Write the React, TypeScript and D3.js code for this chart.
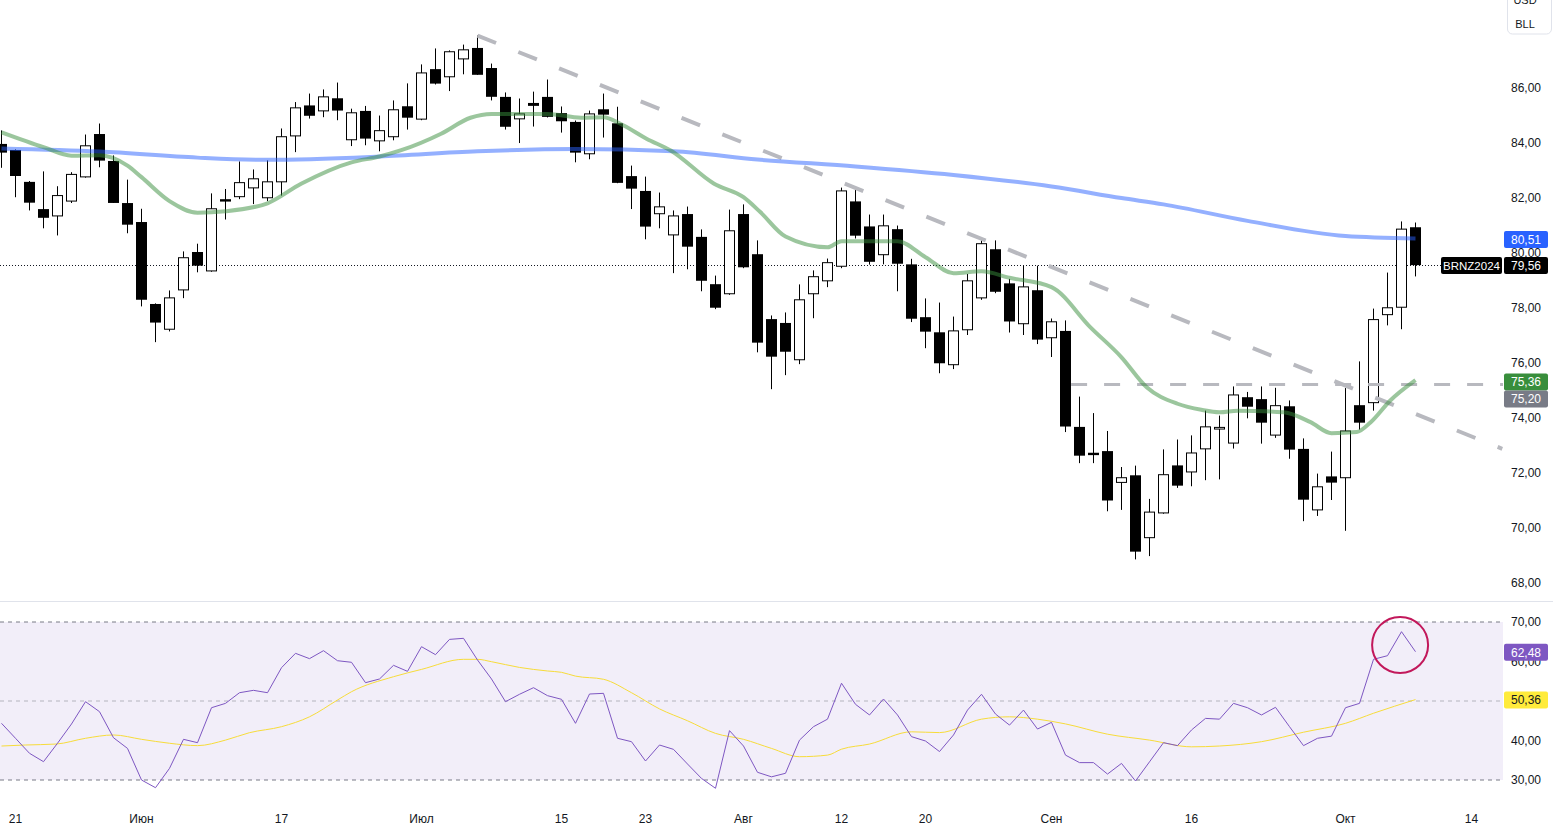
import React from 'react';
import * as d3 from 'd3';

const W = 1553;
const H = 832;

// ---- candle data (May 20 2024 .. Oct 8 2024, trading days) ----
const opens = [83.93,83.71,82.55,81.56,81.33,81.87,82.75,84.29,83.31,81.78,81.09,78.11,77.21,78.64,80.0,79.33,81.92,82.03,82.35,81.99,82.57,84.24,85.33,85.15,85.59,84.1,85.13,84.06,84.21,85.3,84.85,86.65,86.39,87.04,87.42,86.69,85.64,84.86,85.42,85.64,85.05,84.73,83.59,85.19,84.68,82.76,82.22,81.41,80.64,81.38,80.55,78.83,78.5,81.38,79.92,77.56,77.42,76.1,78.5,78.97,79.5,81.84,80.93,79.92,80.83,79.55,77.63,77.08,75.92,77.19,78.35,80.1,78.86,77.41,78.61,76.9,77.13,73.64,72.7,72.76,71.64,71.88,69.63,70.53,72.24,72.02,72.86,73.58,73.07,74.72,74.65,73.36,74.39,72.84,70.64,71.84,71.81,74.43,74.54,77.74,78.01,80.9];
const highs = [84.44,83.75,82.6,82.95,82.41,82.92,84.29,84.69,83.53,82.65,81.59,78.15,78.62,80.04,80.32,82.15,82.31,83.31,83.02,83.35,84.51,85.47,85.78,85.93,86.18,85.23,85.33,84.98,85.53,86.15,86.84,87.42,87.35,87.56,87.89,86.87,85.82,85.6,85.85,86.29,85.31,84.8,85.16,85.78,85.3,83.16,82.76,82.18,81.53,81.67,80.84,79.16,81.56,81.75,80.44,77.71,77.82,78.84,79.35,79.78,82.36,82.29,81.38,81.38,80.98,79.77,78.33,78.18,77.67,79.22,80.47,80.44,79.04,79.52,79.52,77.6,77.53,74.76,74.16,73.51,72.2,72.25,71.04,72.84,73.2,73.35,74.25,74.07,75.13,74.93,75.13,75.08,74.62,73.24,71.96,72.76,75.07,76.04,77.96,79.27,81.13,81.09];
const lows = [83.08,82.01,81.53,80.88,80.62,81.8,82.72,83.1,81.8,80.7,78.04,76.74,77.13,78.34,79.28,79.3,81.2,81.94,81.76,81.87,82.07,83.65,84.87,84.92,84.81,83.87,83.9,83.68,84.08,84.47,84.81,86.11,85.87,86.48,86.46,85.53,84.47,83.98,84.58,84.91,84.36,83.28,83.39,84.18,82.52,81.58,80.48,80.88,79.25,79.39,78.59,77.94,78.46,79.43,76.37,75.03,75.54,75.94,77.61,78.74,79.43,80.51,79.56,79.57,78.59,77.47,76.52,75.61,75.76,77.0,78.28,78.52,77.09,77.0,76.67,76.2,73.47,72.34,72.34,70.59,70.64,68.84,68.96,70.5,71.44,71.5,71.72,71.75,72.87,73.97,73.05,73.26,72.5,70.23,70.42,71.0,69.88,73.56,74.25,77.35,77.21,79.13];
const closes = [83.65,82.8,81.83,81.28,82.07,82.84,83.88,83.36,81.82,81.03,78.3,77.47,78.35,79.81,79.54,81.59,81.87,82.54,82.68,82.57,84.21,85.26,84.99,85.66,85.18,85.08,84.16,84.43,85.19,84.92,86.53,86.16,87.3,87.37,86.48,85.68,84.59,85.04,85.35,84.95,84.79,83.65,85.04,85.03,82.55,82.34,80.96,81.66,81.33,80.23,78.99,78.01,80.79,79.48,76.74,76.23,76.41,78.28,79.12,79.63,82.24,80.63,79.68,80.97,79.61,77.61,77.14,75.99,77.15,78.97,80.32,78.59,77.51,78.75,76.85,77.48,73.69,72.63,72.65,71.0,71.81,69.14,70.56,71.92,71.54,72.71,73.66,73.64,74.82,74.41,73.83,74.43,72.85,71.03,71.48,71.65,73.51,73.83,77.56,77.99,80.85,79.56];

// ---- moving averages (bar index, value) ----
const maLongIdx = [0,7,14,19,27,34,41,48,54,61,68,75,80,83,89,96,101];
const maLongVal = [83.78,83.67,83.45,83.37,83.49,83.68,83.76,83.68,83.38,83.13,82.82,82.4,81.98,81.75,81.15,80.6,80.51];

const maShortIdx = [0,3,5,7,9,10,12,14,16,19,21.4,25,27,28.5,31.4,33.5,35,39,41.4,43,44.2,46.1,47.8,50.9,53,54.2,56,59,60,64,66,68,70,72,75,77.8,80,81.8,84,85.7,87,88.3,91.6,93.5,95,96.8,97.8,99.2,101];
const maShortVal = [84.37,83.83,83.52,83.54,83.16,82.74,81.87,81.45,81.5,81.79,82.5,83.28,83.49,83.71,84.32,84.9,85.04,85.04,84.9,84.92,84.68,84.13,83.71,82.5,82.01,81.47,80.58,80.19,80.41,80.41,79.83,79.25,79.32,79.08,78.74,77.27,76.19,75.1,74.5,74.28,74.19,74.25,74.19,73.83,73.43,73.47,73.83,74.62,75.36];

// ---- RSI ----
const rsiVals = [44.35,40.56,36.76,34.64,39.3,44.18,49.83,47.3,40.7,38.0,30.0,28.05,32.95,40.3,39.45,48.3,49.4,52.1,52.7,52.1,58.43,62.07,60.72,62.74,60.2,59.8,54.64,55.57,59.03,57.51,63.75,61.73,65.6,65.87,60.38,55.57,49.83,51.7,53.37,51.35,50.43,44.35,51.77,51.94,40.56,39.7,34.81,38.86,37.76,34.05,30.4,27.9,42.5,38.6,31.95,30.8,31.7,40.1,43.5,45.4,54.5,49.16,46.46,50.5,46.46,40.97,39.87,37.2,41.4,47.7,51.7,46.7,43.9,47.7,42.9,44.6,36.3,34.4,34.4,31.5,34.2,29.75,34.6,39.45,38.7,42.66,45.6,45.4,49.4,48.3,46.46,48.4,43.5,38.7,40.56,41.1,48.3,49.4,60.55,61.47,67.55,62.48];
const rsiMaIdx = [0,1.7,3.9,6,8,10,12,14,16,17.7,20,22,24,25,28,30,33,34,35,37,39,40,41,43,45,47,49,51,53,55,57,59,60,62,65,67,70,72,74,76,79,82,85,87,90,93,96,98,101];
const rsiMaVal = [38.6,38.86,39.1,40.56,41.4,40.3,39.3,38.7,40.1,41.97,43.5,46.0,50.25,52.35,56.15,58.0,60.55,60.55,59.95,58.5,57.6,57.26,56.3,55.5,52.1,48.0,45.0,41.8,40.3,38.0,35.9,36.3,37.8,39.1,42.2,42.0,45.4,46.0,45.4,44.2,41.6,40.1,38.4,38.6,39.7,42.1,44.35,46.9,50.36];

// ---- axes / annotations ----
const priceTicks = [68,70,72,74,76,78,80,82,84,86];
const rsiTicks = [30,40,60,70];
const xTickIdx = [1,10,20,30,40,46,53,60,66,75,85,96,105];
const xTickLabels = ['21','Июн','17','Июл','15','23','Авг','12','20','Сен','16','Окт','14'];
const trendIdx = [34,107.2];
const trendVal = [87.89,72.86];
const levelIdx = 76.4;
const levelVal = 75.2;
const circleIdx = 99.9;
const circleRsi = 64.2;

const fmt = (v: number) => v.toFixed(2).replace('.', ',');

export default function App() {
  const plotRight = 1503;
  const x = d3.scaleLinear().domain([0, 101]).range([1.5, 1415.5]);
  const y = d3.scaleLinear().domain([68, 86]).range([582.5, 87.5]);
  const ry = d3.scaleLinear().domain([30, 70]).range([780, 622]);

  const n = closes.length;
  const lastClose = closes[n - 1];

  const lineMain = d3.line<[number, number]>().x(d => x(d[0])).y(d => y(d[1])).curve(d3.curveMonotoneX);
  const lineRsi = d3.line<[number, number]>().x(d => x(d[0])).y(d => ry(d[1]));
  const lineRsiMa = d3.line<[number, number]>().x(d => x(d[0])).y(d => ry(d[1])).curve(d3.curveMonotoneX);

  const longPts = maLongIdx.map((v, i) => [v, maLongVal[i]] as [number, number]);
  const shortPts = maShortIdx.map((v, i) => [v, maShortVal[i]] as [number, number]);
  const rsiPts = rsiVals.map((v, i) => [i, v] as [number, number]);
  const rsiMaPts = rsiMaIdx.map((v, i) => [v, rsiMaVal[i]] as [number, number]);

  const font = "'Liberation Sans', Arial, sans-serif";
  const axisColor = '#131722';

  const label = (val: number, yc: number, bg: string, fg: string, key: string) => (
    <g key={key}>
      <rect x={1504} y={yc - 8.5} width={44} height={17} rx={2} fill={bg} />
      <text x={1511} y={yc + 4.3} fontSize={12} fill={fg} fontFamily={font}>{fmt(val)}</text>
    </g>
  );

  return (
    <svg width={W} height={H} style={{ display: 'block', position: 'absolute', left: 0, top: 0, background: '#fff' }}>
      <defs>
        <clipPath id="mainClip"><rect x={0} y={0} width={plotRight} height={600} /></clipPath>
        <clipPath id="rsiClip"><rect x={0} y={602} width={plotRight} height={200} /></clipPath>
      </defs>
      <rect x={0} y={0} width={W} height={H} fill="#fff" />

      {/* main pane */}
      <g clipPath="url(#mainClip)">
        {/* last price dotted */}
        <line x1={0} x2={1441} y1={Math.round(y(lastClose)) + 0.5} y2={Math.round(y(lastClose)) + 0.5} stroke="#131722" strokeWidth={1} strokeDasharray="1 2" />
        {closes.map((c, i) => {
          const o = opens[i];
          const cx = x(i);
          const up = c >= o;
          const top = y(Math.max(o, c));
          const bot = y(Math.min(o, c));
          const h = Math.max(1, bot - top);
          return (
            <g key={i}>
              <line x1={cx} x2={cx} y1={y(highs[i])} y2={y(lows[i])} stroke="#000" strokeWidth={1} />
              {up ? (
                <rect x={cx - 5} y={top} width={10} height={h} fill="#fff" stroke="#000" strokeWidth={1} />
              ) : (
                <rect x={cx - 5.5} y={top - 0.5} width={11} height={h + 1} fill="#000" />
              )}
            </g>
          );
        })}
        {/* horizontal level */}
        <line x1={x(levelIdx)} x2={plotRight} y1={y(levelVal)} y2={y(levelVal)} stroke="#b8b9bf" strokeWidth={3} strokeDasharray="16 17" />
        {/* trend line */}
        <line x1={x(trendIdx[0])} y1={y(trendVal[0])} x2={x(trendIdx[1])} y2={y(trendVal[1])} stroke="#b8b9bf" strokeWidth={4} strokeDasharray="20 24" />
        {/* MAs */}
        <path d={lineMain(longPts) || ''} fill="none" stroke="rgba(41,98,255,0.5)" strokeWidth={4} />
        <path d={lineMain(shortPts) || ''} fill="none" stroke="rgba(56,142,60,0.5)" strokeWidth={4} />
      </g>

      {/* pane separator */}
      <line x1={0} x2={W} y1={601.5} y2={601.5} stroke="#e0e3eb" strokeWidth={1} />

      {/* RSI pane */}
      <g clipPath="url(#rsiClip)">
        <rect x={0} y={ry(70)} width={plotRight} height={ry(30) - ry(70)} fill="rgba(126,87,194,0.1)" />
        <line x1={0} x2={plotRight} y1={ry(70)} y2={ry(70)} stroke="#787b86" strokeWidth={1} strokeDasharray="4 4" />
        <line x1={0} x2={plotRight} y1={ry(50)} y2={ry(50)} stroke="rgba(120,123,134,0.5)" strokeWidth={1} strokeDasharray="4 4" />
        <line x1={0} x2={plotRight} y1={ry(30)} y2={ry(30)} stroke="#787b86" strokeWidth={1} strokeDasharray="4 4" />
        <path d={lineRsiMa(rsiMaPts) || ''} fill="none" stroke="#f7dc3a" strokeWidth={1} />
        <path d={lineRsi(rsiPts) || ''} fill="none" stroke="#7e57c2" strokeWidth={1} />
        <circle cx={x(circleIdx)} cy={ry(circleRsi)} r={28} fill="none" stroke="#c2185b" strokeWidth={2} />
      </g>

      {/* price axis ticks */}
      {priceTicks.map(t => (
        <text key={'p' + t} x={1511} y={y(t) + 4.3} fontSize={12} fill={axisColor} fontFamily={font}>{fmt(t)}</text>
      ))}
      {rsiTicks.map(t => (
        <text key={'r' + t} x={1511} y={ry(t) + 4.3} fontSize={12} fill={axisColor} fontFamily={font}>{fmt(t)}</text>
      ))}

      {/* x axis labels */}
      {xTickIdx.map((t, i) => (
        <text key={'x' + t} x={x(t)} y={823} fontSize={12} fill={axisColor} fontFamily={font} textAnchor="middle">{xTickLabels[i]}</text>
      ))}

      {/* price labels */}
      {label(maLongVal[maLongVal.length - 1], y(maLongVal[maLongVal.length - 1]) + 1, '#2962ff', '#fff', 'lb')}
      <g>
        <rect x={1441} y={y(lastClose) - 7.5} width={61} height={17} rx={2} fill="#000" />
        <text x={1471.5} y={y(lastClose) + 5} fontSize={11.5} fill="#fff" fontFamily={font} textAnchor="middle">BRNZ2024</text>
      </g>
      {label(lastClose, y(lastClose) + 1, '#000', '#fff', 'lc')}
      {label(maShortVal[maShortVal.length - 1], y(maShortVal[maShortVal.length - 1]) + 2, '#388e3c', '#fff', 'ls')}
      {label(levelVal, y(levelVal) + 14.5, '#787b86', '#fff', 'll')}
      {label(rsiVals[rsiVals.length - 1], ry(rsiVals[rsiVals.length - 1]) + 0.5, '#7e57c2', '#fff', 'lr')}
      {label(rsiMaVal[rsiMaVal.length - 1], ry(rsiMaVal[rsiMaVal.length - 1]) + 0.5, '#ffeb3b', '#131722', 'lm')}

      {/* currency box */}
      <rect x={1507.5} y={-20} width={44} height={54} rx={5} fill="#fff" stroke="#e0e3eb" strokeWidth={1} />
      <text x={1525} y={4} fontSize={11} fill={axisColor} fontFamily={font} textAnchor="middle">USD</text>
      <text x={1525} y={28} fontSize={11} fill={axisColor} fontFamily={font} textAnchor="middle">BLL</text>
    </svg>
  );
}
